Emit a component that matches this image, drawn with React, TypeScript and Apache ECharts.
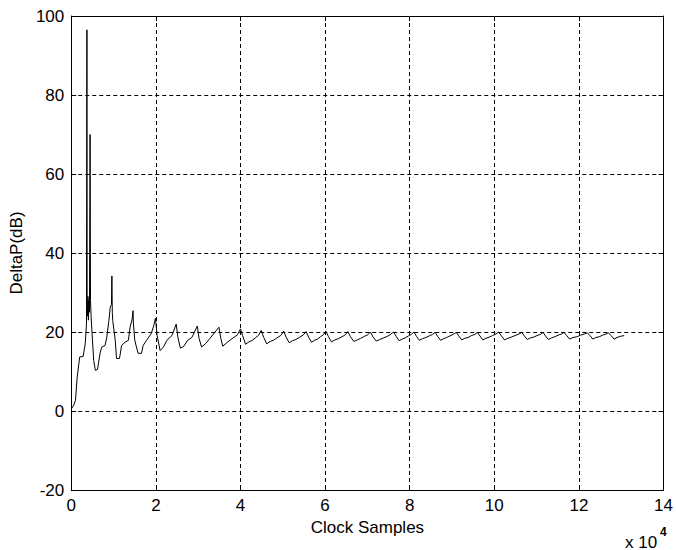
import React, { useEffect, useRef } from 'react';
import * as echarts from 'echarts';

// Sample index of each trace point (clock samples)
const clockSamples = [
  0, 600, 1000, 1400, 2000, 2800, 3300, 3600, 3700, 3750,
  3850, 3950, 4050, 4150, 4300, 4450, 4550, 4700, 4900, 5300,
  5700, 6200, 6800, 7200, 8000, 8400, 8900, 9200, 9500, 9600,
  9700, 9800, 10400, 10700, 11400, 11900, 12700, 13500, 13900, 14400,
  14600, 14700, 15000, 15400, 15800, 16600, 17000, 17800, 18900, 19500,
  19900, 20300, 21000, 21800, 22600, 23800, 24800, 25200, 25800, 26600,
  27500, 28500, 29800, 30200, 30800, 31800, 32800, 34900, 35300, 35800,
  36900, 38000, 39300,
  40000, 40500, 41200, 42000, 42800, 43600, 44300,
  44900, 45500, 46200, 47000, 47800, 48600, 49500,
  50200, 50800, 51500, 52300, 53100, 54000, 54800,
  55500, 56100, 56800, 57500, 58200, 58900, 59600,
  60200, 60800, 61500, 62300, 63100, 64000, 64800,
  65400, 66000, 66800, 67600, 68400, 69300, 70100,
  70700, 71300, 72100, 72900, 73800, 74700, 75500,
  76200, 76800, 77500, 78200, 78900, 79700, 80400,
  81000, 81600, 82300, 83000, 83800, 84600, 85400,
  86000, 86600, 87300, 88000, 88700, 89500, 90300,
  91000, 91600, 92300, 93000, 93800, 94600, 95400,
  96000, 96600, 97300, 98000, 98800, 99600, 100400,
  101000, 101700, 102400, 103200, 104000, 104900, 105800,
  106500, 107100, 107800, 108500, 109300, 110100, 110900,
  111500, 112100, 112800, 113500, 114300, 115100, 115900,
  116500, 117100, 117800, 118600, 119500, 120400, 121300,
  122000, 122600, 123300, 124000, 124800, 125600, 126400,
  127000, 127600, 128300, 129000, 129800, 130700,
];

// DeltaP in dB at each sample
const deltaP = [
  0.5, 1.5, 2.7, 8.6, 13.7, 13.8, 17.0, 22.0, 96.5, 28.0,
  24.0, 29.0, 23.0, 28.0, 25.0, 70.0, 28.0, 23.7, 20.0, 12.8,
  10.3, 10.5, 14.6, 16.2, 16.6, 18.7, 22.9, 26.2, 27.0, 34.2,
  25.0, 22.9, 17.9, 13.3, 13.3, 16.6, 17.4, 17.9, 21.2, 23.3,
  25.4, 22.0, 18.0, 16.2, 14.6, 14.6, 16.6, 17.9, 19.6, 21.6,
  23.5, 19.1, 15.3, 16.2, 17.9, 19.1, 22.0, 18.7, 15.9, 16.4,
  17.9, 18.6, 21.5, 18.4, 16.2, 17.1, 18.4, 21.2, 18.7, 16.4,
  17.4, 18.3, 19.3,
  20.8, 19.1, 16.9, 17.5, 17.9, 18.6, 19.2,
  20.4, 18.6, 17.0, 17.6, 17.9, 18.5, 19.1,
  20.2, 18.7, 17.3, 17.8, 18.1, 18.7, 19.2,
  20.1, 18.7, 17.4, 17.9, 18.2, 18.8, 19.3,
  20.2, 18.8, 17.5, 18.0, 18.3, 18.8, 19.3,
  20.1, 18.8, 17.6, 18.0, 18.4, 18.9, 19.3,
  20.0, 18.8, 17.7, 18.1, 18.5, 18.9, 19.4,
  20.0, 18.9, 17.8, 18.2, 18.5, 19.0, 19.4,
  20.0, 18.9, 17.9, 18.3, 18.6, 19.0, 19.4,
  19.9, 18.9, 17.9, 18.3, 18.6, 19.0, 19.4,
  19.9, 19.0, 18.0, 18.4, 18.6, 19.1, 19.4,
  19.9, 19.0, 18.0, 18.4, 18.7, 19.1, 19.5,
  20.0, 19.0, 18.0, 18.4, 18.7, 19.1, 19.5,
  19.9, 19.0, 18.1, 18.5, 18.7, 19.1, 19.4,
  19.9, 19.0, 18.1, 18.5, 18.8, 19.2, 19.5,
  19.9, 19.1, 18.2, 18.6, 18.8, 19.2, 19.5,
  19.8, 19.1, 18.2, 18.6, 18.8, 19.2, 19.5,
  19.8, 19.1, 18.2, 18.6, 18.9, 19.1,
];

const xRange = { min: 0, max: 140000, interval: 20000 };
const yRange = { min: -20, max: 100, interval: 20 };

const FONT = '"Liberation Sans", Arial, sans-serif';
const INK = '#000000';

export default function App() {
  const ref = useRef<HTMLDivElement>(null);

  useEffect(() => {
    if (!ref.current) return;
    const chart = echarts.init(ref.current, undefined, { renderer: 'svg' });

    const points = clockSamples.map((s, i) => [s, deltaP[i]]);

    const dashed = { show: true, lineStyle: { color: INK, width: 1, type: [4, 3] as number[] } };
    const tickIn = { show: true, inside: true, length: 5, lineStyle: { color: INK, width: 1 } };
    const axisLine = { show: true, onZero: false, lineStyle: { color: INK, width: 1 } };
    const labelText = { color: INK, fontFamily: FONT, fontSize: 17 };

    chart.setOption({
      animation: false,
      backgroundColor: '#ffffff',
      grid: { left: 70, right: 7, top: 16, bottom: 60 },
      xAxis: [
        {
          type: 'value',
          position: 'bottom',
          ...xRange,
          name: 'Clock Samples',
          nameLocation: 'middle',
          nameGap: 27,
          nameTextStyle: labelText,
          axisLine,
          axisTick: tickIn,
          axisLabel: {
            ...labelText,
            margin: 7,
            formatter: (v: number) => String(v / 10000),
          },
          splitLine: dashed,
        },
        {
          type: 'value',
          position: 'top',
          ...xRange,
          axisLine,
          axisTick: tickIn,
          axisLabel: { show: false },
          splitLine: { show: false },
        },
      ],
      yAxis: [
        {
          type: 'value',
          position: 'left',
          ...yRange,
          name: 'DeltaP(dB)',
          nameLocation: 'middle',
          nameGap: 46,
          nameTextStyle: labelText,
          axisLine,
          axisTick: tickIn,
          axisLabel: { ...labelText, margin: 7 },
          splitLine: dashed,
        },
        {
          type: 'value',
          position: 'right',
          ...yRange,
          axisLine,
          axisTick: tickIn,
          axisLabel: { show: false },
          splitLine: { show: false },
        },
      ],
      graphic: [
        {
          type: 'text',
          x: 625,
          y: 542,
          silent: true,
          style: {
            text: 'x 10',
            fontFamily: FONT,
            fontSize: 17,
            fill: INK,
            verticalAlign: 'middle',
            align: 'left',
          },
        },
        {
          type: 'text',
          x: 660,
          y: 532,
          silent: true,
          style: {
            text: '4',
            fontFamily: FONT,
            fontSize: 12,
            fontWeight: 'bold',
            fill: INK,
            verticalAlign: 'middle',
            align: 'left',
          },
        },
      ],
      series: [
        {
          type: 'line',
          xAxisIndex: 0,
          yAxisIndex: 0,
          data: points,
          showSymbol: false,
          symbol: 'none',
          lineStyle: { color: INK, width: 1 },
          silent: true,
        },
      ],
    });

    return () => chart.dispose();
  }, []);

  return (
    <div
      ref={ref}
      style={{ position: 'fixed', left: 0, top: 0, width: 676, height: 550, background: '#fff' }}
    />
  );
}
